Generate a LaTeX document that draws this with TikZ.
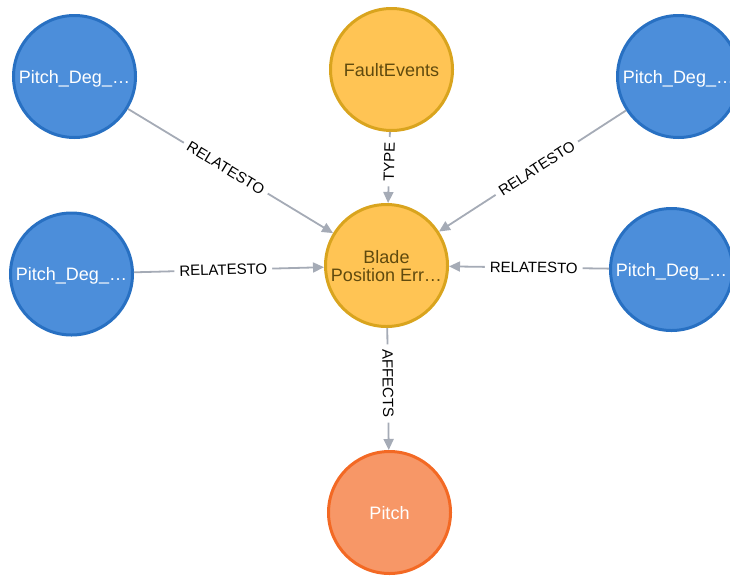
\documentclass[tikz,border=0pt]{standalone}
\usepackage{fontspec}
\setmainfont{Liberation Sans}
\usetikzlibrary{arrows.meta}
\definecolor{bluefill}{HTML}{4C8EDA}
\definecolor{blueline}{HTML}{2870C2}
\definecolor{goldfill}{HTML}{FFC454}
\definecolor{goldline}{HTML}{D9A41E}
\definecolor{goldtext}{HTML}{604A0E}
\definecolor{orangefill}{HTML}{F79767}
\definecolor{orangeline}{HTML}{F36924}
\definecolor{edgegray}{HTML}{A5ABB6}
% captions sit a little below the circle centre; the box keeps its size
\newcommand\captiontext[1]{\raisebox{-3pt}[\height][\depth]{%
  \begin{tabular}{@{}c@{}}#1\end{tabular}}}
\begin{document}
\begin{tikzpicture}[x=1pt,y=-1pt,
  gnode/.style={circle, minimum size=122pt, inner sep=0pt, line width=3pt,
    font=\fontsize{18}{18}\selectfont},
  bluenode/.style={gnode, fill=bluefill, draw=blueline, text=white},
  goldnode/.style={gnode, fill=goldfill, draw=goldline, text=goldtext},
  orangenode/.style={gnode, fill=orangefill, draw=orangeline, text=white},
  rel/.style={draw=edgegray, line width=1.8pt, -{Triangle[length=11pt,width=10pt]}},
  lbl/.style={sloped, fill=white, inner xsep=5pt, inner ysep=1pt,
    font=\fontsize{15}{16}\selectfont, text=black}
]
\useasboundingbox (0,0) rectangle (730,576);

% nodes
\node[bluenode]   (tl)    at (74.5,76.5)   {\captiontext{Pitch\_Deg\_…}};
\node[goldnode]   (fault) at (391.5,69.5)  {\captiontext{FaultEvents}};
\node[bluenode]   (tr)    at (678.5,76.5)  {\captiontext{Pitch\_Deg\_…}};
\node[bluenode]   (ml)    at (71.5,274)    {\captiontext{Pitch\_Deg\_…}};
\node[goldnode]   (blade) at (386.5,265.5) {\captiontext{Blade\\Position Err…}};
\node[bluenode]   (mr)    at (671.5,269.5) {\captiontext{Pitch\_Deg\_…}};
\node[orangenode] (pitch) at (389.5,512.5) {\captiontext{Pitch}};

% relationships
\draw[rel] (tl)    -- node[lbl,pos=0.477] {RELATESTO} (blade);
\draw[rel] (fault) -- node[lbl,pos=0.42]  {TYPE}      (blade);
\draw[rel] (tr)    -- node[lbl,pos=0.477] {RELATESTO} (blade);
\draw[rel] (ml)    -- node[lbl,pos=0.47]  {RELATESTO} (blade);
\draw[rel] (mr)    -- node[lbl,pos=0.47]  {RELATESTO} (blade);
\draw[rel] (blade) -- node[lbl,pos=0.455] {AFFECTS}   (pitch);
\end{tikzpicture}
\end{document}
